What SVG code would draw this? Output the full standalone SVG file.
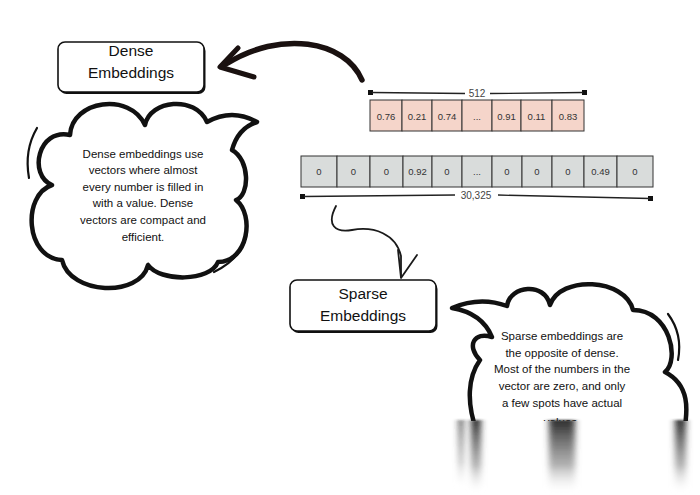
<svg xmlns="http://www.w3.org/2000/svg" width="700" height="495" viewBox="0 0 700 495">
<defs>
<style>
.lbl{font-family:"Liberation Sans",Arial,sans-serif;font-size:15.5px;fill:#111;text-anchor:middle}
.ctx{font-family:"Liberation Sans",Arial,sans-serif;font-size:11.5px;fill:#111;text-anchor:middle}
.num{font-family:"Liberation Sans",Arial,sans-serif;font-size:9.5px;fill:#333;text-anchor:middle}
.dim{font-family:"Liberation Sans",Arial,sans-serif;font-size:10px;fill:#444;text-anchor:middle}
.pk{fill:#f5d5ca;stroke:#333;stroke-width:1}
.gy{fill:#d9dcdb;stroke:#333;stroke-width:1}
.cloud{fill:#fff;stroke:#111;stroke-width:4.5;stroke-linejoin:round;stroke-linecap:round}
.flick{fill:none;stroke:#111;stroke-width:2.2;stroke-linecap:round}
.box{fill:#fff;stroke:#111;stroke-width:1.6}
.shadow{fill:#111}
.brk{stroke:#222;stroke-width:1.3;fill:none}
</style>
<linearGradient id="fade" x1="0" y1="0" x2="0" y2="1">
<stop offset="0" stop-color="#222" stop-opacity="0.95"/>
<stop offset="0.6" stop-color="#666" stop-opacity="0.5"/>
<stop offset="1" stop-color="#fff" stop-opacity="0"/>
</linearGradient>
<filter id="bx" x="-50%" y="-10%" width="200%" height="120%"><feGaussianBlur stdDeviation="3 1"/></filter>
</defs>
<rect width="700" height="495" fill="#fff"/>

<g id="connectors">
<path d="M362,80 C345,40 280,30 226,64" fill="none" stroke="#1a1110" stroke-width="5.5" stroke-linecap="round"/>
<path d="M238,48 L220,67 L254,77" fill="none" stroke="#1a1110" stroke-width="5" stroke-linecap="round" stroke-linejoin="round"/>
<path d="M336,206 C326,225 335,233 352,230 C374,226 396,234 401,256 L401,277" fill="none" stroke="#1a1a1a" stroke-width="1.8" stroke-linecap="round"/>
<path d="M398,250 L401,278 L417,255" fill="none" stroke="#1a1a1a" stroke-width="1.8" stroke-linecap="round" stroke-linejoin="round"/>
</g>

<g id="dense-embeddings">
<rect class="shadow" x="59.5" y="44" width="146" height="50" rx="7"/>
<rect class="box" x="58" y="42" width="146" height="50" rx="7"/>
<text class="lbl" x="131" y="56">Dense</text>
<text class="lbl" x="131" y="78">Embeddings</text>
</g>

<g id="dense-cloud">
<path class="cloud" d="M70,135 C72,100 130,92 145,125 C150,100 195,95 207,122 Q232,108 257,122 Q238,128 232,150 C250,160 250,195 236,200 C255,215 248,262 218,262 C210,282 160,282 148,265 C140,298 70,295 62,260 C25,258 22,195 52,185 C28,175 38,128 70,135 Z"/>
<path class="flick" d="M37,128 Q24,150 29,178"/>
<path class="flick" d="M247,232 Q243,258 214,272"/>
<text class="ctx" x="143" y="158">Dense embeddings use</text>
<text class="ctx" x="143" y="174">vectors where almost</text>
<text class="ctx" x="143" y="191">every number is filled in</text>
<text class="ctx" x="143" y="207">with a value. Dense</text>
<text class="ctx" x="143" y="224">vectors are compact and</text>
<text class="ctx" x="143" y="241">efficient.</text>
</g>

<g id="dense-vector">
<rect x="368" y="90" width="5" height="5" fill="#111"/>
<rect x="582" y="90" width="5" height="5" fill="#111"/>
<path class="brk" d="M372,92.5 L465,93.5 M490,93.5 L583,92.5"/>
<text class="dim" x="477" y="97">512</text>
<rect class="pk" x="370" y="100" width="32" height="31"/>
<rect class="pk" x="402" y="100" width="30" height="31"/>
<rect class="pk" x="432" y="100" width="30" height="31"/>
<rect class="pk" x="462" y="100" width="30" height="31"/>
<rect class="pk" x="492" y="100" width="29" height="31"/>
<rect class="pk" x="521" y="100" width="31" height="31"/>
<rect class="pk" x="552" y="100" width="32" height="31"/>
<text class="num" x="386" y="120">0.76</text>
<text class="num" x="417" y="120">0.21</text>
<text class="num" x="447" y="120">0.74</text>
<text class="num" x="477" y="120">...</text>
<text class="num" x="506.5" y="120">0.91</text>
<text class="num" x="536.5" y="120">0.11</text>
<text class="num" x="568" y="120">0.83</text>
</g>

<g id="sparse-vector">
<rect class="gy" x="301" y="156" width="36" height="31"/>
<rect class="gy" x="337" y="156" width="33" height="31"/>
<rect class="gy" x="370" y="156" width="33" height="31"/>
<rect class="gy" x="403" y="156" width="29" height="31"/>
<rect class="gy" x="432" y="156" width="30" height="31"/>
<rect class="gy" x="462" y="156" width="30" height="31"/>
<rect class="gy" x="492" y="156" width="30" height="31"/>
<rect class="gy" x="522" y="156" width="30" height="31"/>
<rect class="gy" x="552" y="156" width="32" height="31"/>
<rect class="gy" x="584" y="156" width="33" height="31"/>
<rect class="gy" x="617" y="156" width="36" height="31"/>
<text class="num" x="319" y="175">0</text>
<text class="num" x="353.5" y="175">0</text>
<text class="num" x="386.5" y="175">0</text>
<text class="num" x="417.5" y="175">0.92</text>
<text class="num" x="447" y="175">0</text>
<text class="num" x="477" y="175">...</text>
<text class="num" x="507" y="175">0</text>
<text class="num" x="537" y="175">0</text>
<text class="num" x="568" y="175">0</text>
<text class="num" x="600.5" y="175">0.49</text>
<text class="num" x="635" y="175">0</text>
<rect x="300" y="194" width="5" height="5" fill="#111"/>
<rect x="648" y="196" width="5" height="5" fill="#111"/>
<path class="brk" d="M304,196.5 L455,195 M498,195 L650,198.5"/>
<text class="dim" x="476" y="199">30,325</text>
</g>

<g id="sparse-embeddings">
<rect class="shadow" x="291.5" y="282" width="146" height="51" rx="7"/>
<rect class="box" x="290" y="280" width="146" height="51" rx="7"/>
<text class="lbl" x="363" y="299">Sparse</text>
<text class="lbl" x="363" y="321">Embeddings</text>
</g>

<g id="sparse-cloud">
<path class="cloud" d="M477,432 C466,402 468,377 480,360 C466,346 474,331 492,337 Q482,313 452,308 Q480,296 507,306 C510,285 545,282 550,305 C560,275 625,278 633,310 C670,310 680,360 665,372 C690,385 688,410 684,432"/>
<path class="flick" d="M668,314 Q683,334 678,360"/>
<text class="ctx" x="562" y="340">Sparse embeddings are</text>
<text class="ctx" x="562" y="357">the opposite of dense.</text>
<text class="ctx" x="562" y="373">Most of the numbers in the</text>
<text class="ctx" x="562" y="390">vector are zero, and only</text>
<text class="ctx" x="562" y="407">a few spots have actual</text>
<text class="ctx" x="562" y="426">values.</text>
<rect x="440" y="421" width="260" height="74" fill="#fff"/>
<g filter="url(#bx)">
<rect x="459" y="420" width="4" height="70" fill="url(#fade)"/>
<rect x="471" y="420" width="10" height="75" fill="url(#fade)"/>
<rect x="549" y="420" width="26" height="75" fill="url(#fade)"/>
<rect x="675" y="420" width="11" height="75" fill="url(#fade)"/>
</g>
</g>
</svg>
